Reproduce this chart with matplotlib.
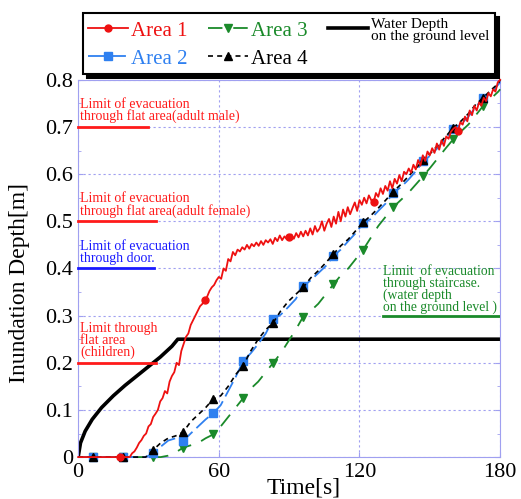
import numpy as np
import matplotlib
matplotlib.use("Agg")
import matplotlib.pyplot as plt
from matplotlib.ticker import MultipleLocator

plt.rcParams['font.family'] = ['Liberation Serif', 'DejaVu Serif']

# Area 1 sampled every 1 s (0..180)
area1 = [0.0] * 22 + [
    0.000, 0.008, 0.012, 0.020, 0.030, 0.036, 0.045, 0.050, 0.065, 0.070,
    0.085, 0.092, 0.100, 0.118, 0.125, 0.140, 0.135, 0.160, 0.172, 0.180,
    0.200, 0.195, 0.225, 0.240, 0.255, 0.262, 0.280, 0.290, 0.300, 0.310,
    0.320, 0.325, 0.334, 0.340, 0.352, 0.360, 0.365, 0.375, 0.382, 0.378,
    0.400, 0.395, 0.420, 0.415, 0.435, 0.428, 0.440, 0.436, 0.445, 0.440,
    0.450, 0.442, 0.452, 0.447, 0.455, 0.448, 0.458, 0.450, 0.460, 0.455,
    0.462, 0.452, 0.465, 0.458, 0.470, 0.460, 0.468, 0.462, 0.466, 0.472,
    0.463, 0.475, 0.466, 0.478, 0.468, 0.480, 0.470, 0.485, 0.472, 0.490,
    0.478, 0.485, 0.500, 0.480, 0.495, 0.505, 0.488, 0.510, 0.495, 0.520,
    0.500, 0.525, 0.510, 0.530, 0.515, 0.528, 0.540, 0.522, 0.545, 0.535,
    0.550, 0.538, 0.555, 0.545, 0.540, 0.560, 0.552, 0.570, 0.558, 0.575,
    0.565, 0.585, 0.570, 0.590, 0.580, 0.598, 0.585, 0.605, 0.600, 0.612,
    0.603, 0.620, 0.610, 0.630, 0.618, 0.640, 0.628, 0.648, 0.640, 0.655,
    0.645, 0.665, 0.652, 0.672, 0.660, 0.680, 0.675, 0.690, 0.696, 0.700,
    0.692, 0.710, 0.705, 0.722, 0.712, 0.735, 0.725, 0.745, 0.735, 0.752,
    0.745, 0.762, 0.755, 0.772, 0.765, 0.780, 0.775, 0.795, 0.800,
]
t1 = np.arange(len(area1))

# Areas 2-4 sampled every 3.2 s, last point at 180 s
t_coarse = list(np.arange(0, 180, 3.2)) + [180]
area2 = [
    0, 0, 0, 0, 0, 0, 0, 0, 0, 0,
    0.008, 0.022, 0.035, 0.040, 0.034, 0.050, 0.065, 0.080, 0.093, 0.110,
    0.140, 0.170, 0.204, 0.220, 0.240, 0.262, 0.293, 0.302, 0.318, 0.335,
    0.362, 0.375, 0.390, 0.405, 0.426, 0.440, 0.458, 0.475, 0.496, 0.505,
    0.522, 0.538, 0.561, 0.572, 0.588, 0.606, 0.628, 0.640, 0.657, 0.676,
    0.696, 0.705, 0.722, 0.742, 0.762, 0.772, 0.790, 0.795,
]
area3 = [
    0, 0, 0, 0, 0, 0, 0, 0, 0, 0,
    0, 0, 0.003, 0.010, 0.020, 0.025, 0.030, 0.040, 0.048, 0.065,
    0.085, 0.105, 0.125, 0.145, 0.160, 0.180, 0.200, 0.220, 0.245, 0.270,
    0.298, 0.310, 0.325, 0.345, 0.366, 0.385, 0.400, 0.420, 0.440, 0.465,
    0.490, 0.510, 0.530, 0.545, 0.560, 0.578, 0.596, 0.615, 0.635, 0.655,
    0.674, 0.690, 0.705, 0.725, 0.745, 0.760, 0.775, 0.780,
]
area4 = [
    0, 0, 0, 0, 0, 0, 0, 0, 0, 0,
    0.015, 0.030, 0.040, 0.045, 0.053, 0.075, 0.090, 0.105, 0.123, 0.130,
    0.150, 0.175, 0.194, 0.225, 0.250, 0.270, 0.285, 0.310, 0.330, 0.345,
    0.360, 0.380, 0.395, 0.412, 0.430, 0.448, 0.462, 0.480, 0.498, 0.512,
    0.528, 0.545, 0.563, 0.578, 0.595, 0.612, 0.630, 0.645, 0.662, 0.680,
    0.698, 0.712, 0.728, 0.748, 0.762, 0.778, 0.792, 0.800,
]

# water depth on the ground level
t_wd = [0, 1, 3, 6, 10, 15, 20, 25, 30, 35, 40, 42.5, 180]
water_depth = [0, 0.03, 0.055, 0.08, 0.105, 0.13, 0.152, 0.172, 0.192,
               0.212, 0.235, 0.25, 0.25]

# evacuation limits: level, x end of the marker line, text, colour
limit_levels = [0.7, 0.5, 0.4, 0.2]
limit_ends = [30, 33, 32.5, 33]
limit_texts = [
    "Limit of evacuation\nthrough flat area(adult male)",
    "Limit of evacuation\nthrough flat area(adult female)",
    "Limit of evacuation\nthrough door.",
    "Limit through\nflat area\n(children)",
]
limit_colors = ['#ff1a1a', '#ff1a1a', '#1a1aff', '#ff1a1a']

stair_level = 0.3
stair_text = ("Limit  of evacuation\nthrough staircase.\n(water depth\n"
              "on the ground level )")

x_ticks = [0, 60, 120, 180]
y_ticks = [0, 0.1, 0.2, 0.3, 0.4, 0.5, 0.6, 0.7, 0.8]
y_tick_labels = ['0', '0.1', '0.2', '0.3', '0.4', '0.5', '0.6', '0.7', '0.8']

c_red = '#ee1111'
c_blue = '#2f80f0'
c_green = '#1a8a2a'
c_grid = '#a0a0f0'

fig = plt.figure(figsize=(5.21, 4.99), dpi=100)
ax = fig.add_axes([0.150, 0.084, 0.810, 0.756])

ax.plot(t1, area1, color=c_red, lw=1.3, marker='o', ms=5,
        markevery=(18, 36), label='Area 1', clip_on=False, zorder=5)
ax.plot(t_coarse, area2, color=c_blue, lw=1.3, ls=(0, (9, 3)), marker='s',
        ms=6, markevery=(2, 4), label='Area 2', clip_on=False, zorder=4)
ax.plot(t_coarse, area3, color=c_green, lw=1.3, ls=(0, (8, 6)), marker='v',
        ms=6, markevery=(2, 4), label='Area 3', clip_on=False, zorder=3)
ax.plot(t_coarse, area4, color='black', lw=1.2, ls=(0, (3, 2.5)), marker='^',
        ms=6, markevery=(2, 4), label='Area 4', clip_on=False, zorder=4)
ax.plot(t_wd, water_depth, color='black', lw=2.6,
        label='Water Depth\non the ground level', zorder=2)

for lev, xe, txt, col in zip(limit_levels, limit_ends, limit_texts, limit_colors):
    ax.plot([0, xe], [lev, lev], color=col, lw=2, clip_on=False, zorder=6)
    ax.text(0.8, lev + 0.008, txt, color=col, fontsize=10, va='bottom',
            ha='left', linespacing=0.88)

ax.plot([130, 180], [stair_level, stair_level], color=c_green, lw=2, zorder=6)
ax.text(130, stair_level + 0.004, stair_text, color=c_green, fontsize=9.8,
        va='bottom', ha='left', linespacing=0.86)

ax.set_xlim(0, 180)
ax.set_ylim(0, 0.8)
ax.set_xticks(x_ticks)
ax.set_yticks(y_ticks, y_tick_labels)
ax.yaxis.set_minor_locator(MultipleLocator(0.05))
ax.tick_params(axis='both', which='both', direction='in', colors=c_grid,
               labelcolor='black', labelsize=16, right=True)
ax.tick_params(axis='x', pad=4)
ax.grid(True, color=c_grid, ls=(0, (2, 2.5)), lw=0.8)
for sp in ax.spines.values():
    sp.set_color(c_grid)

fig.text(304 / 521, 1 - 488 / 499, "Time[s]", fontsize=17, ha='center', va='center')
fig.text(20 / 521, 1 - 283 / 499, "Inundation Depth[m]", fontsize=17,
         ha='center', va='center', rotation=90)

leg = fig.legend(loc='upper left', bbox_to_anchor=(83 / 521, 1 - 13 / 499),
                 ncol=3, fontsize=15, frameon=True, fancybox=False,
                 framealpha=1, edgecolor='black', handlelength=1.9,
                 handletextpad=0.15, columnspacing=1.0, borderpad=0.25,
                 labelspacing=0.4, borderaxespad=0,
                 shadow={'facecolor': 'black', 'edgecolor': 'black', 'alpha': 1,
                         'ox': 3, 'oy': -3},
                 labelcolor=[c_red, c_blue, c_green, 'black', 'black'])
leg.get_frame().set_linewidth(1.5)
leg.get_texts()[4].set_fontsize(11)
leg.get_texts()[4].set_linespacing(0.9)

fig.savefig("out.png", dpi=100)
